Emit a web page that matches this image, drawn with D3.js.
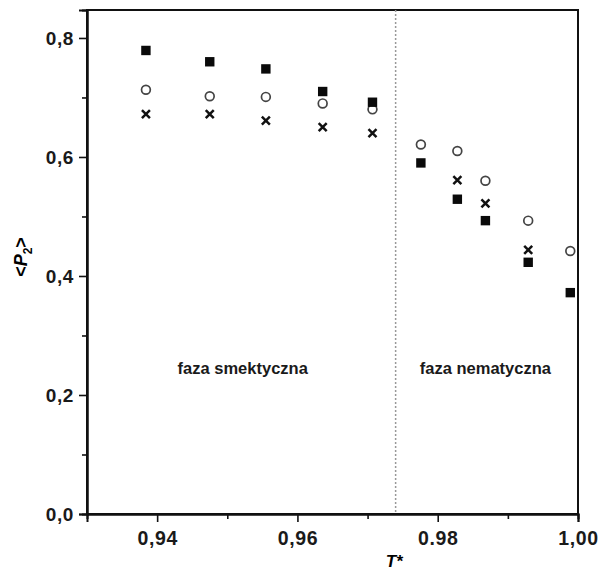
<!DOCTYPE html>
<html>
<head>
<meta charset="utf-8">
<script src="https://cdn.jsdelivr.net/npm/d3@7"></script>
<style>
  body { margin: 0; background: #fff; }
  text { font-family: "Liberation Sans", Arial, sans-serif; }
</style>
</head>
<body>
<svg id="chart" width="609" height="572"></svg>
<script>
// reduced temperature T*
var temps = [0.9384, 0.9475, 0.9555, 0.9636, 0.9707, 0.9776, 0.9828, 0.9868, 0.9929, 0.9989];
// order parameter <P2> for the three series (null = not visible)
var squares = [0.779, 0.760, 0.748, 0.710, 0.692, 0.590, 0.529, 0.493, 0.423, 0.372];
var circles = [0.713, 0.702, 0.701, 0.690, 0.680, 0.621, 0.610, 0.560, 0.493, 0.442];
var crosses = [0.672, 0.672, 0.661, 0.650, 0.640, null, 0.561, 0.522, 0.444, null];

var xTicks = [0.94, 0.96, 0.98, 1.00];
var xTickLabels = ["0,94", "0,96", "0.98", "1,00"];
var xMinor = [0.95, 0.97, 0.99];
var yTicks = [0.0, 0.2, 0.4, 0.6, 0.8];
var yTickLabels = ["0,0", "0,2", "0,4", "0,6", "0,8"];
var yMinor = [0.1, 0.3, 0.5, 0.7];
var transition = 0.974;
var phaseLabels = ["faza smektyczna", "faza nematyczna"];

var margin = { top: 10, right: 31, bottom: 58, left: 87 },
    width = 609 - margin.left - margin.right,
    height = 572 - margin.top - margin.bottom;

var svg = d3.select('svg#chart');
var g = svg.append('g')
    .attr("transform", "translate(" + margin.left + "," + margin.top + ")");

var x = d3.scaleLinear().domain([0.93, 1.0]).range([0, width]);
var y = d3.scaleLinear().domain([0, 0.847]).range([height, 0]);

// frame
g.append('rect')
    .attr('width', width).attr('height', height)
    .attr('fill', 'none').attr('stroke', '#111').attr('stroke-width', 2);

// transition line
g.append('line')
    .attr('x1', x(transition)).attr('x2', x(transition))
    .attr('y1', 0).attr('y2', height)
    .attr('stroke', '#999').attr('stroke-width', 1.5)
    .attr('stroke-dasharray', '2,2');

// axes
var xAxis = g.append('g').attr('transform', 'translate(0,' + height + ')')
    .call(d3.axisBottom(x).tickValues(xTicks).tickSize(8).tickPadding(9)
        .tickFormat((d, i) => xTickLabels[i]));
g.append('g').attr('transform', 'translate(0,' + height + ')')
    .call(d3.axisBottom(x).tickValues(xMinor).tickSize(5).tickFormat(''));
var yAxis = g.append('g')
    .call(d3.axisLeft(y).tickValues(yTicks).tickSize(8).tickPadding(5)
        .tickFormat((d, i) => yTickLabels[i]));
g.append('g')
    .call(d3.axisLeft(y).tickValues(yMinor).tickSize(5).tickFormat(''));

g.selectAll('.domain').attr('stroke', '#111').attr('stroke-width', 2);
g.selectAll('.tick line').attr('stroke', '#111').attr('stroke-width', 1.6);
g.selectAll('.tick text')
    .attr('fill', '#1a1a1a').attr('font-weight', 'bold')
    .attr('letter-spacing', 0.6)
    .style('font-family', '"Liberation Sans", Arial, sans-serif');
xAxis.selectAll('.tick text').attr('font-size', 19.5);
yAxis.selectAll('.tick text').attr('font-size', 19);

// axis titles
svg.append('text')
    .attr('x', margin.left + x(0.9738)).attr('y', 567)
    .attr('text-anchor', 'middle')
    .attr('font-size', 17).attr('font-weight', 'bold').attr('font-style', 'italic')
    .text('T*');

var yl = svg.append('text')
    .attr('transform', 'translate(27,257) rotate(-90)')
    .attr('text-anchor', 'middle')
    .attr('font-size', 18).attr('font-weight', 'bold');
yl.append('tspan').text('<');
yl.append('tspan').attr('font-style', 'italic').text('P');
yl.append('tspan').attr('font-size', 12).attr('dy', 5).text('2');
yl.append('tspan').attr('dy', -5).text('>');

// phase labels
g.append('text')
    .attr('x', x(0.9522)).attr('y', y(0.236))
    .attr('text-anchor', 'middle').attr('font-size', 16.5).attr('font-weight', 'bold')
    .attr('fill', '#1a1a1a').text(phaseLabels[0]);
g.append('text')
    .attr('x', x(0.9868)).attr('y', y(0.236))
    .attr('text-anchor', 'middle').attr('font-size', 16.5).attr('font-weight', 'bold')
    .attr('fill', '#1a1a1a').text(phaseLabels[1]);

// circles
g.selectAll('circle.open')
    .data(temps.map((t, i) => [t, circles[i]]).filter(d => d[1] != null))
    .enter().append('circle')
    .attr('class', 'open')
    .attr('cx', d => x(d[0])).attr('cy', d => y(d[1]))
    .attr('r', 4.4)
    .attr('fill', 'none').attr('stroke', '#444').attr('stroke-width', 1.7);

// crosses
g.selectAll('path.cross')
    .data(temps.map((t, i) => [t, crosses[i]]).filter(d => d[1] != null))
    .enter().append('path')
    .attr('class', 'cross')
    .attr('transform', d => "translate(" + x(d[0]) + "," + y(d[1]) + ")")
    .attr('d', 'M-4,-4L4,4M-4,4L4,-4')
    .attr('stroke', '#111').attr('stroke-width', 2.5);

// filled squares
g.selectAll('rect.sq')
    .data(temps.map((t, i) => [t, squares[i]]).filter(d => d[1] != null))
    .enter().append('rect')
    .attr('class', 'sq')
    .attr('x', d => x(d[0]) - 4.7).attr('y', d => y(d[1]) - 4.7)
    .attr('width', 9.4).attr('height', 9.4)
    .attr('fill', '#0a0a0a');
</script>
</body>
</html>
